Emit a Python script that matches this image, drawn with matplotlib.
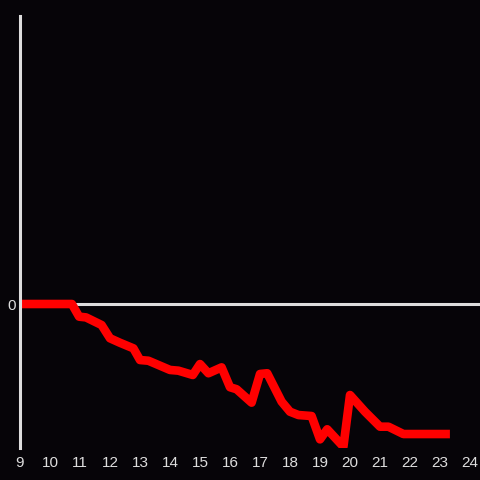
import matplotlib
matplotlib.use('Agg')
import matplotlib.pyplot as plt

# time of day (hours) and relative value
hours = [9.0, 10.73, 10.97, 11.2, 11.72, 12.0, 12.33, 12.78, 13.0, 13.28,
         14.0, 14.28, 14.76, 15.0, 15.28, 15.72, 16.0, 16.22, 16.72, 17.0,
         17.24, 17.72, 18.0, 18.28, 18.72, 19.0, 19.24, 19.78, 20.0, 20.5,
         21.0, 21.28, 21.78, 23.33]
values = [0.0, 0.0, -0.088, -0.093, -0.146, -0.238, -0.269, -0.308, -0.389, -0.394,
          -0.458, -0.463, -0.493, -0.417, -0.481, -0.44, -0.578, -0.592, -0.685, -0.486,
          -0.481, -0.678, -0.748, -0.771, -0.778, -0.94, -0.87, -0.991, -0.632, -0.748,
          -0.852, -0.852, -0.903, -0.903]
xticks = list(range(9, 25))

bg = '#060408'
fg = '#dddddd'

plt.rcParams['font.family'] = ['Liberation Sans', 'DejaVu Sans']

fig = plt.figure(figsize=(4.8, 4.8), dpi=100, facecolor=bg)
ax = fig.add_axes([20 / 480, 32 / 480, 460 / 480, 432 / 480], facecolor=bg)

ax.axhline(0, color=fg, lw=2.2, zorder=1)
ax.plot(hours, values, color='#ff0000', lw=6.2, zorder=2, solid_capstyle='butt')

ax.set_xlim(9, 24.333)
ax.set_ylim(-1.0, 2.0)
ax.set_xticks(xticks)
ax.set_yticks([0])
ax.tick_params(length=0, colors=fg, labelsize=11)
ax.tick_params(axis='x', pad=6)
ax.tick_params(axis='y', pad=3)

for s in ['top', 'right', 'bottom']:
    ax.spines[s].set_visible(False)
ax.spines['left'].set_color(fg)
ax.spines['left'].set_linewidth(2.2)

fig.savefig('out.png', dpi=100, facecolor=bg)
